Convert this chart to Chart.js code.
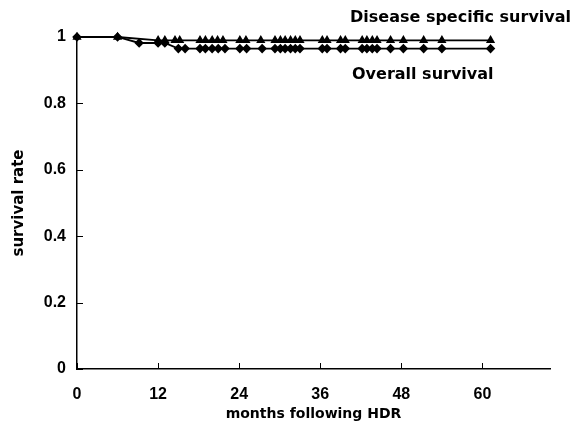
<!DOCTYPE html>
<html>
<head>
<meta charset="utf-8">
<script src="https://cdn.jsdelivr.net/npm/chart.js@4/dist/chart.umd.min.js"></script>
<style>
  html, body { margin: 0; padding: 0; background: #fff; }
  #wrap { width: 576px; height: 434px; }
</style>
</head>
<body>
<div id="wrap"><canvas id="survivalChart" width="576" height="434"></canvas></div>
<script>
// months after HDR and survival rate
const dssMonths = [0, 6, 12, 13, 14.5, 15.2, 18.2, 19, 20, 20.8, 21.6, 24.1, 25, 27.2, 29.3, 30.1, 30.8, 31.6, 32.3, 33, 36.3, 37, 39, 39.7, 42.2, 42.9, 43.7, 44.4, 46.4, 48.3, 51.3, 54, 61.2];
const dssRate = [1, 1, 0.99, 0.99, 0.99, 0.99, 0.99, 0.99, 0.99, 0.99, 0.99, 0.99, 0.99, 0.99, 0.99, 0.99, 0.99, 0.99, 0.99, 0.99, 0.99, 0.99, 0.99, 0.99, 0.99, 0.99, 0.99, 0.99, 0.99, 0.99, 0.99, 0.99, 0.99];

const osMonths = [0, 6, 9.2, 12, 13, 15, 16, 18.2, 19, 20, 20.9, 21.9, 24.1, 25.1, 27.4, 29.3, 30.1, 30.8, 31.6, 32.3, 33, 36.3, 37, 39, 39.7, 42.2, 42.9, 43.7, 44.4, 46.4, 48.3, 51.3, 54, 61.2];
const osRate = [1, 1, 0.982, 0.982, 0.982, 0.965, 0.965, 0.965, 0.965, 0.965, 0.965, 0.965, 0.965, 0.965, 0.965, 0.965, 0.965, 0.965, 0.965, 0.965, 0.965, 0.965, 0.965, 0.965, 0.965, 0.965, 0.965, 0.965, 0.965, 0.965, 0.965, 0.965, 0.965, 0.965];

const xTicks = [0, 12, 24, 36, 48, 60];
const yTicks = [0, 0.2, 0.4, 0.6, 0.8, 1];
const seriesNames = ["Disease specific survival", "Overall survival"];

const toPoints = (xs, ys) => xs.map((x, i) => ({ x: x, y: ys[i] }));

const tickFont = { family: "'Liberation Sans', Arial, sans-serif", size: 16, weight: "bold" };

// inward tick marks and the series labels
const extras = {
  id: "extras",
  afterDraw(chart) {
    const ctx = chart.ctx;
    const xs = chart.scales.x;
    const ys = chart.scales.y;
    const area = chart.chartArea;
    ctx.save();
    ctx.strokeStyle = "#000";
    ctx.lineWidth = 1;
    xTicks.forEach((t) => {
      const px = Math.round(xs.getPixelForValue(t)) + 0.5;
      ctx.beginPath();
      ctx.moveTo(px, area.bottom);
      ctx.lineTo(px, area.bottom - 6);
      ctx.stroke();
    });
    yTicks.forEach((t) => {
      const py = Math.round(ys.getPixelForValue(t)) + 0.5;
      ctx.beginPath();
      ctx.moveTo(area.left, py);
      ctx.lineTo(area.left + 6, py);
      ctx.stroke();
    });
    ctx.fillStyle = "#000";
    ctx.font = "bold 16px 'DejaVu Sans', sans-serif";
    ctx.textBaseline = "middle";
    ctx.textAlign = "left";
    ctx.fillText(seriesNames[0], 350, 18);
    ctx.fillText(seriesNames[1], 352, 75);
    ctx.restore();
  },
};

new Chart(document.getElementById("survivalChart"), {
  type: "scatter",
  data: {
    datasets: [
      {
        label: seriesNames[0],
        data: toPoints(dssMonths, dssRate),
        showLine: true,
        borderColor: "#000",
        backgroundColor: "#000",
        borderWidth: 1.8,
        pointStyle: "triangle",
        pointRadius: 3.5,
        clip: false,
      },
      {
        label: seriesNames[1],
        data: toPoints(osMonths, osRate),
        showLine: true,
        borderColor: "#000",
        backgroundColor: "#000",
        borderWidth: 1.8,
        pointStyle: "rectRot",
        pointRadius: 3.5,
        clip: false,
      },
    ],
  },
  options: {
    responsive: false,
    animation: false,
    layout: { padding: { top: 37, right: 26, left: 0, bottom: 0 } },
    plugins: {
      legend: { display: false },
      tooltip: { enabled: false },
    },
    scales: {
      x: {
        type: "linear",
        min: 0,
        max: 70,
        afterBuildTicks: (scale) => {
          scale.ticks = xTicks.map((v) => ({ value: v }));
        },
        afterFit: (scale) => {
          scale.height = 65;
        },
        grid: { display: false, drawTicks: false },
        border: { display: true, color: "#000", width: 1.5 },
        ticks: {
          color: "#000",
          padding: 16,
          font: tickFont,
        },
        title: {
          display: true,
          text: "months following HDR",
          color: "#000",
          padding: { top: 4, bottom: 11 },
          font: { family: "'DejaVu Sans', sans-serif", size: 14, weight: "bold" },
        },
      },
      y: {
        type: "linear",
        min: 0,
        max: 1,
        afterBuildTicks: (scale) => {
          scale.ticks = yTicks.map((v) => ({ value: v }));
        },
        afterFit: (scale) => {
          scale.width = 77;
        },
        grid: { display: false, drawTicks: false },
        border: { display: true, color: "#000", width: 1.5 },
        ticks: {
          color: "#000",
          padding: 11,
          font: tickFont,
          callback: (value) => String(value),
        },
        title: {
          display: true,
          text: "survival rate",
          color: "#000",
          padding: { top: 10, bottom: 0 },
          font: { family: "'DejaVu Sans', sans-serif", size: 15, weight: "bold" },
        },
      },
    },
  },
  plugins: [extras],
});
</script>
</body>
</html>
